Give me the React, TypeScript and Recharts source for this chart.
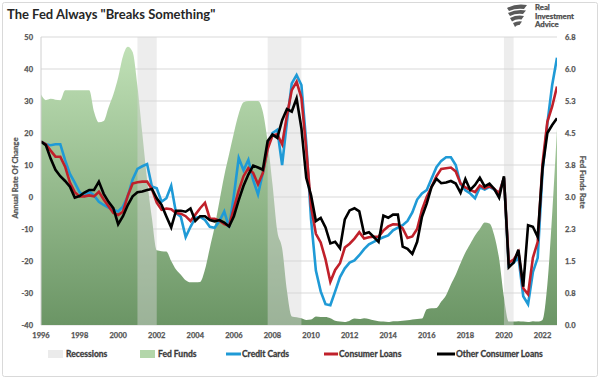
import React from "react";
import {
  ComposedChart,
  Area,
  Line,
  XAxis,
  YAxis,
  CartesianGrid,
  ReferenceArea,
} from "recharts";

// Quarterly observations, 1996 Q1 .. 2022 Q4 (4 values per row = one year)
const START_YEAR = 1996;

const creditCards = [
  17.3, 16.5, 16.2, 16.5,
  16.5, 11.5, 7.2, 4.5,
  1.5, 0.3, 1.7, 0.5,
  -1.5, -2.5, -3.3, -4,
  -4.5, -3, 0.3, 5.5,
  8.8, 9.6, 10.3, 3.3,
  2.7, -1.5, -0.4, 3.5,
  -5, -6.2, -12.5, -9.3,
  -6.5, -6.2, -7.2, -9.3,
  -9.6, -7.5, -4.5, -9.5,
  0.5, 12.2, 8.4, 11.6,
  5.3, 0.8, 7.5, 15.5,
  20, 21, 10, 23.5,
  35.5, 38.1, 35, 17,
  -7, -23, -29.5, -33.5,
  -33.8, -29.5, -25, -22.3,
  -20.5, -19.8, -18.2, -16.3,
  -14.8, -14, -13.2, -12.6,
  -12, -10.4, -9.6, -8.8,
  -7.5, -4.8, -0.8, 1.1,
  2.2, 5.8, 9.3, 11.3,
  12.4, 12.4, 10, 4,
  2.1, 1.1, -0.4, 3.0,
  2.3, 3.2, 2.3, 1.2,
  6.0, -21.5, -20.6, -18.8,
  -31, -33.5, -23.5, -19,
  8, 23, 35, 43.5,
];

const consumerLoans = [
  17.3, 16.5, 14.5, 12.6,
  12.6, 9.5, 4.5, 1.5,
  0.2, 0.2, 0.5, 0.2,
  1.6, -0.8, -2.9, -5,
  -5.6, -4.6, 0.4, 4.2,
  4.6, 4.8, 4.8, 2.5,
  -1.8, -4, -3.6, -3.8,
  -5, -5.2, -6, -7.5,
  -5.5, -3.5, -1.8, -6.7,
  -6.8, -7.4, -8.5, -9,
  -3.5, 2, 6.5, 9,
  7.5, 4, 7.5, 15,
  19.2, 19.6, 16.5, 25.5,
  33.4, 36, 31, 15,
  -3, -11.5, -14.2, -19.5,
  -26.5, -22.8, -20.7, -15.8,
  -14.6, -13, -11, -13,
  -12.6, -12.4, -12.4, -10.5,
  -9.2, -8.5, -8.6, -9.8,
  -12.8, -12.3, -10, -4,
  0.1, 3.2, 6.5, 8.8,
  9, 9.2, 8, 4.2,
  3, 2.2, 1.5, 3.6,
  2.7, 3.4, 2.5, 1.2,
  6.0, -20.5, -19.6, -17.2,
  -28.5, -30.4, -19, -14,
  10.5, 23.5, 28.3, 34.5,
];

const otherConsumerLoans = [
  17.3, 16.2, 12, 8.5,
  6.5, 5, 3.2, -0.2,
  0.3, 1.4, 2.2, 2.2,
  4.8, 1.0, -1.5, -3.5,
  -8.5, -6, -2.5, 0.2,
  1.5, 1.7, 2.2, 2.5,
  -0.4, -2.5, -6.1, -9.5,
  -4.3, -4.3, -4.6, -3.6,
  -7.5, -6, -6, -7.2,
  -7.6, -7.2, -8, -9.2,
  -6, -1, 3.5, 7,
  9.8, 9.2, 8.5, 17.5,
  19.5, 18.5, 24, 27.5,
  26.7, 30.8, 21.5, 6,
  0.5, -7.5, -6.5, -9.5,
  -14.5, -14, -16, -7,
  -4.2, -3.5, -4.5, -11.5,
  -11, -12.5, -14, -5.8,
  -6.5, -5.5, -5.5, -15.5,
  -16.2, -17.8, -14, -6.2,
  -2.0, 3.2, 5.7, 4.3,
  4.5, 5.0, 4.2, 1.3,
  5.6, 2.2, 3.75, 6.0,
  3.3, 4.2, 2.5, -0.2,
  6.5, -22, -20.5, -16.5,
  -28, -8.8, -9.3, -12.5,
  9, 20, 22.5, 24.6,
];

const fedFunds = [
  5.4, 5.27, 5.3, 5.28,
  5.27, 5.5, 5.5, 5.5,
  5.5, 5.5, 5.5, 5.0,
  4.75, 4.78, 5.1, 5.4,
  5.8, 6.3, 6.52, 6.4,
  5.6, 4.5, 3.4, 2.5,
  1.75, 1.73, 1.72, 1.5,
  1.3, 1.18, 1.05, 1.0,
  1.0, 1.01, 1.3, 1.8,
  2.3, 2.9, 3.5, 4.0,
  4.5, 4.95, 5.22, 5.25,
  5.25, 5.25, 5.0, 4.3,
  3.3, 2.2, 1.8, 0.8,
  0.2, 0.18, 0.16, 0.12,
  0.13, 0.2, 0.19, 0.19,
  0.16, 0.1, 0.08, 0.07,
  0.1, 0.15, 0.14, 0.16,
  0.14, 0.11, 0.09, 0.08,
  0.07, 0.09, 0.09, 0.1,
  0.11, 0.13, 0.14, 0.15,
  0.37, 0.39, 0.4, 0.55,
  0.7, 0.95, 1.18, 1.45,
  1.7, 1.9, 2.1, 2.25,
  2.4, 2.38, 2.1, 1.55,
  0.65, 0.08, 0.08, 0.09,
  0.08, 0.07, 0.09, 0.08,
  0.12, 0.95, 2.6, 4.6,
];

const recessions: [number, number][] = [
  [2001.0, 2002.0],
  [2007.75, 2009.5],
  [2020.0, 2020.5],
];

const xTicks = [1996, 1998, 2000, 2002, 2004, 2006, 2008, 2010, 2012, 2014, 2016, 2018, 2020, 2022];
const leftTicks = [-40, -30, -20, -10, 0, 10, 20, 30, 40, 50];
const rightTicks = [0, 0.75, 1.5, 2.25, 3, 3.75, 4.5, 5.25, 6, 6.75];

const legendItems = [
  { label: "Recessions", kind: "box", color: "#ebebeb" },
  { label: "Fed Funds", kind: "box", color: "#b3d6aa" },
  { label: "Credit Cards", kind: "line", color: "#1f9ad6" },
  { label: "Consumer Loans", kind: "line", color: "#c0202a" },
  { label: "Other Consumer Loans", kind: "line", color: "#000000" },
];

const data = creditCards.map((cc, i) => ({
  q: START_YEAR + i / 4,
  cc,
  cl: consumerLoans[i],
  ocl: otherConsumerLoans[i],
  ff: fedFunds[i],
}));

const FONT = "Lato, 'Open Sans', sans-serif";
const tickStyle = {
  fontSize: 7.5,
  fontWeight: 700,
  fill: "#555555",
  stroke: "#555555",
  strokeWidth: 0.25,
  fontFamily: FONT,
};

const legendX = [48, 140, 226, 324, 437];
const legendW = [15, 15, 15, 14, 18];

export default function App() {
  return (
    <div style={{ position: "absolute", left: 0, top: 0, width: 600, height: 379, background: "#fff" }}>
      <svg width={0} height={0} style={{ position: "absolute" }}>
        <defs>
          <linearGradient id="ffGrad" gradientUnits="userSpaceOnUse" x1="0" y1="37" x2="0" y2="325">
            <stop offset="0" stopColor="#c3e3b9" />
            <stop offset="1" stopColor="#6b9565" />
          </linearGradient>
        </defs>
      </svg>
      <ComposedChart
        width={600}
        height={379}
        data={data}
        margin={{ top: 37, right: 13, bottom: 34, left: 11 }}
      >
        <CartesianGrid yAxisId="left" vertical={false} stroke="#d9d9d9" strokeWidth={1} />
        <XAxis
          dataKey="q"
          type="number"
          domain={[1996, 2022.75]}
          ticks={xTicks}
          allowDataOverflow
          tickLine={false}
          axisLine={false}
          height={20}
          tick={tickStyle}
          interval={0}
        />
        <YAxis
          yAxisId="left"
          orientation="left"
          domain={[-40, 50]}
          ticks={leftTicks}
          width={30}
          tickLine={false}
          axisLine={{ stroke: "#d0d0d0" }}
          tick={tickStyle}
          interval={0}
        />
        <YAxis
          yAxisId="right"
          orientation="right"
          domain={[0, 6.75]}
          ticks={rightTicks}
          width={30}
          tickLine={false}
          axisLine={false}
          tick={tickStyle}
          tickFormatter={(v: number) => v.toFixed(1)}
          interval={0}
        />
        <Area
          yAxisId="right"
          dataKey="ff"
          type="monotone"
          stroke="none"
          fill="url(#ffGrad)"
          fillOpacity={1}
          isAnimationActive={false}
          dot={false}
          activeDot={false}
        />
        {recessions.map(([a, b], i) => (
          <ReferenceArea
            key={i}
            yAxisId="left"
            x1={a}
            x2={b}
            fill="#d6d6d6"
            fillOpacity={0.45}
            stroke="none"
          />
        ))}
        <Line
          yAxisId="left"
          dataKey="cc"
          type="linear"
          stroke="#1f9ad6"
          strokeWidth={2.6}
          dot={false}
          activeDot={false}
          isAnimationActive={false}
        />
        <Line
          yAxisId="left"
          dataKey="cl"
          type="linear"
          stroke="#c0202a"
          strokeWidth={2.6}
          dot={false}
          activeDot={false}
          isAnimationActive={false}
        />
        <Line
          yAxisId="left"
          dataKey="ocl"
          type="linear"
          stroke="#000000"
          strokeWidth={2.6}
          dot={false}
          activeDot={false}
          isAnimationActive={false}
        />
      </ComposedChart>
      <svg
        width={600}
        height={379}
        style={{ position: "absolute", left: 0, top: 0, pointerEvents: "none" }}
      >
        <rect x={2.5} y={2.5} width={595} height={374} fill="none" stroke="#d9d9d9" strokeWidth={1} rx={2} />
        <text x={7} y={19} fontFamily={FONT} fontWeight={700} fontSize={13} fill="#262626">
          The Fed Always "Breaks Something"
        </text>
        <g fill="#5a5a5a">
          <path d="M507 8 Q516 3 527 5 L524 9 Q516 8 509 11 Z" />
          <path d="M508 13 Q516 9 526 10.5 L523 14 Q516 13 510 16 Z" />
          <path d="M510 18 Q517 14.5 524 16 L521.5 19.5 Q516.5 18.5 512 21.5 Z" />
          <path d="M513 23 Q518 20.5 522 21.5 L519.5 25 Q517 24.5 515 27 Z" />
        </g>
        <g fontFamily={FONT} fontWeight={700} fontSize={7.8} fill="#4a4a4a" stroke="#4a4a4a" strokeWidth={0.25}>
          <text x={535} y={10}>Real</text>
          <text x={535} y={18.5}>Investment</text>
          <text x={535} y={27}>Advice</text>
        </g>
        <text
          transform="translate(18,178) rotate(-90)"
          textAnchor="middle"
          fontFamily={FONT}
          fontWeight={700}
          fontSize={7.8}
          fill="#555555"
          stroke="#555555"
          strokeWidth={0.25}
        >
          Annual Rate Of Change
        </text>
        <text
          transform="translate(580,182) rotate(90)"
          textAnchor="middle"
          fontFamily={FONT}
          fontWeight={700}
          fontSize={7.8}
          fill="#555555"
          stroke="#555555"
          strokeWidth={0.25}
        >
          Fed Funds Rate
        </text>
        {legendItems.map((it, i) => {
          const x = legendX[i];
          const w = legendW[i];
          return (
            <g key={it.label}>
              {it.kind === "box" ? (
                <rect x={x} y={350} width={w} height={8} fill={it.color} />
              ) : (
                <line x1={x} x2={x + w} y1={354} y2={354} stroke={it.color} strokeWidth={3} />
              )}
              <text
                x={x + w + (it.kind === "box" ? 3 : 1)}
                y={357}
                fontFamily={FONT}
                fontWeight={700}
                fontSize={8.5}
                fill="#3a3a3a"
                stroke="#3a3a3a"
                strokeWidth={0.3}
              >
                {it.label}
              </text>
            </g>
          );
        })}
      </svg>
    </div>
  );
}
